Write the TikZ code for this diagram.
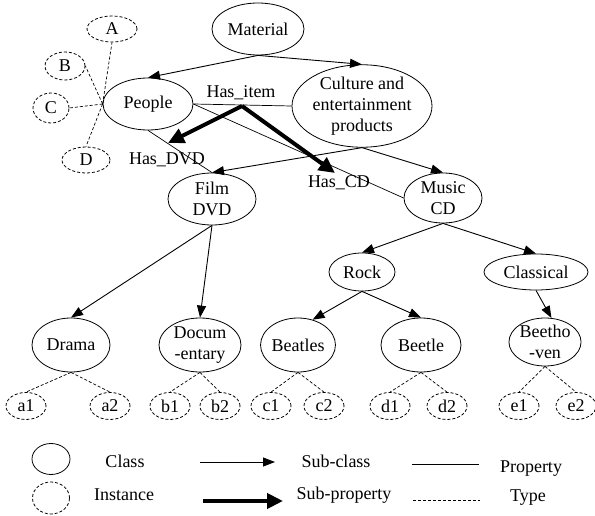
\documentclass[tikz,border=0pt]{standalone}
\usepackage{fontspec}
\setmainfont{Liberation Serif}
\usetikzlibrary{shapes.geometric,arrows.meta}
\begin{document}
\begin{tikzpicture}[x=1pt,y=-1pt,
  every node/.style={font=\fontsize{18}{21}\selectfont},
  cls/.style={ellipse,draw,line width=0.8pt,inner sep=0pt,align=center},
  inst/.style={ellipse,draw,line width=0.8pt,dash pattern=on 3pt off 2pt,inner sep=0pt,minimum width=40pt,minimum height=27pt},
  sub/.style={line width=0.9pt,-{Triangle[length=12pt,width=9pt]}},
  subp/.style={line width=4pt,-{Triangle[length=16pt,width=15pt]}},
  prop/.style={line width=0.7pt},
  typ/.style={line width=0.7pt,dash pattern=on 3pt off 2pt},
  lbl/.style={inner sep=0pt}
]
\useasboundingbox (0,0) rectangle (595,516);

% classes
\node[cls,minimum width=92pt,minimum height=52pt] (mat) at (258,29) {Material};
\node[cls,minimum width=90pt,minimum height=52pt] (people) at (148,104) {People};
\node[cls,minimum width=140pt,minimum height=76pt] (culture) at (362,106) {Culture and\\entertainment\\products};
\node[cls,minimum width=88pt,minimum height=52pt] (film) at (212,199) {Film\\DVD};
\node[cls,minimum width=78pt,minimum height=50pt] (music) at (443,198) {Music\\CD};
\node[cls,minimum width=66pt,minimum height=38pt] (rock) at (362,272) {Rock};
\node[cls,minimum width=104pt,minimum height=36pt] (classical) at (536,272) {Classical};
\node[cls,minimum width=78pt,minimum height=54pt] (drama) at (71,345) {Drama};
\node[cls,minimum width=82pt,minimum height=54pt] (docu) at (200,345) {Docum\\-entary};
\node[cls,minimum width=68pt,minimum height=54pt] (beatles) at (298,345) {Beatles};
\node[cls,minimum width=80pt,minimum height=54pt] (beetle) at (421,345) {Beetle};
\node[cls,minimum width=66pt,minimum height=48pt] (beeth) at (545,342) {Beetho\\-ven};

% instances
\node[inst,minimum width=50pt,minimum height=26pt] (A) at (112,29) {A};
\node[inst,minimum width=40pt,minimum height=28pt] (B) at (65,66) {B};
\node[inst,minimum width=36pt,minimum height=30pt] (C) at (51,108) {C};
\node[inst,minimum width=48pt,minimum height=26pt] (D) at (86,160) {D};
\node[inst] (a1) at (26,406) {a1};
\node[inst] (a2) at (110,406) {a2};
\node[inst] (b1) at (170,406) {b1};
\node[inst] (b2) at (220,406) {b2};
\node[inst] (c1) at (271,406) {c1};
\node[inst] (c2) at (324,406) {c2};
\node[inst] (d1) at (390,406) {d1};
\node[inst] (d2) at (447,406) {d2};
\node[inst] (e1) at (519,406) {e1};
\node[inst] (e2) at (576,406) {e2};

% sub-class arrows
\draw[sub] (mat.south) -- (people.north);
\draw[sub] (mat.south) -- (culture.north);
\draw[sub] (culture.south) -- (film.north);
\draw[sub] (culture.south) -- (music.north);
\draw[sub] (film.south) -- (drama.north);
\draw[sub] (film.south) -- (docu.north);
\draw[sub] (music.south) -- (rock.north);
\draw[sub] (music.south) -- (classical.north);
\draw[sub] (rock.south) -- (beatles.60);
\draw[sub] (rock.south) -- (beetle.north);
\draw[sub] (classical.south) -- (beeth.75);

% properties
\draw[prop] (people.east) -- (culture.west);
\draw[prop] (people.south) -- (film.north);
\draw[prop] (people.east) -- (music.west);

% sub-properties
\coordinate (hi) at (242,106);
\coordinate (hdvd) at (168,143);
\coordinate (hcd) at (335,173);
\draw[subp] (hi) -- (hdvd);
\draw[subp] (hi) -- (hcd);
\node[lbl] (lhi) at (241,93) {Has\_item};
\node[lbl] (ldvd) at (167,160) {Has\_DVD};
\node[lbl] (lcd) at (339,183) {Has\_CD};

% types
\draw[typ] (people.west) -- (A.south);
\draw[typ] (people.west) -- (B.east);
\draw[typ] (people.west) -- (C.east);
\draw[typ] (people.west) -- (D.north);
\draw[typ] (drama.south) -- (a1.north);
\draw[typ] (drama.south) -- (a2.north);
\draw[typ] (docu.south) -- (b1.north);
\draw[typ] (docu.south) -- (b2.north);
\draw[typ] (beatles.south) -- (c1.north);
\draw[typ] (beatles.south) -- (c2.north);
\draw[typ] (beetle.south) -- (d1.north);
\draw[typ] (beetle.south) -- (d2.north);
\draw[typ] (beeth.south) -- (e1.north);
\draw[typ] (beeth.south) -- (e2.north);

% legend
\node[cls,minimum width=38pt,minimum height=31pt] (lgc) at (51,459) {};
\node[inst,minimum width=37pt,minimum height=32pt] (lgi) at (51,498) {};
\node[lbl] (tclass) at (125,461) {Class};
\node[lbl] (tinst) at (124,495) {Instance};
\coordinate (s1) at (200,462); \coordinate (s2) at (275,462);
\draw[sub] (s1) -- (s2);
\node[lbl] (tsub) at (336,461) {Sub-class};
\coordinate (p1) at (203,501); \coordinate (p2) at (283,501);
\draw[subp] (p1) -- (p2);
\node[lbl] (tsubp) at (344,495) {Sub-property};
\coordinate (q1) at (412,464); \coordinate (q2) at (479,464);
\draw[prop] (q1) -- (q2);
\node[lbl] (tprop) at (531,469) {Property};
\coordinate (t1) at (413,500); \coordinate (t2) at (480,500);
\draw[typ] (t1) -- (t2);
\node[lbl] (ttype) at (528,498) {Type};
\end{tikzpicture}
\end{document}
